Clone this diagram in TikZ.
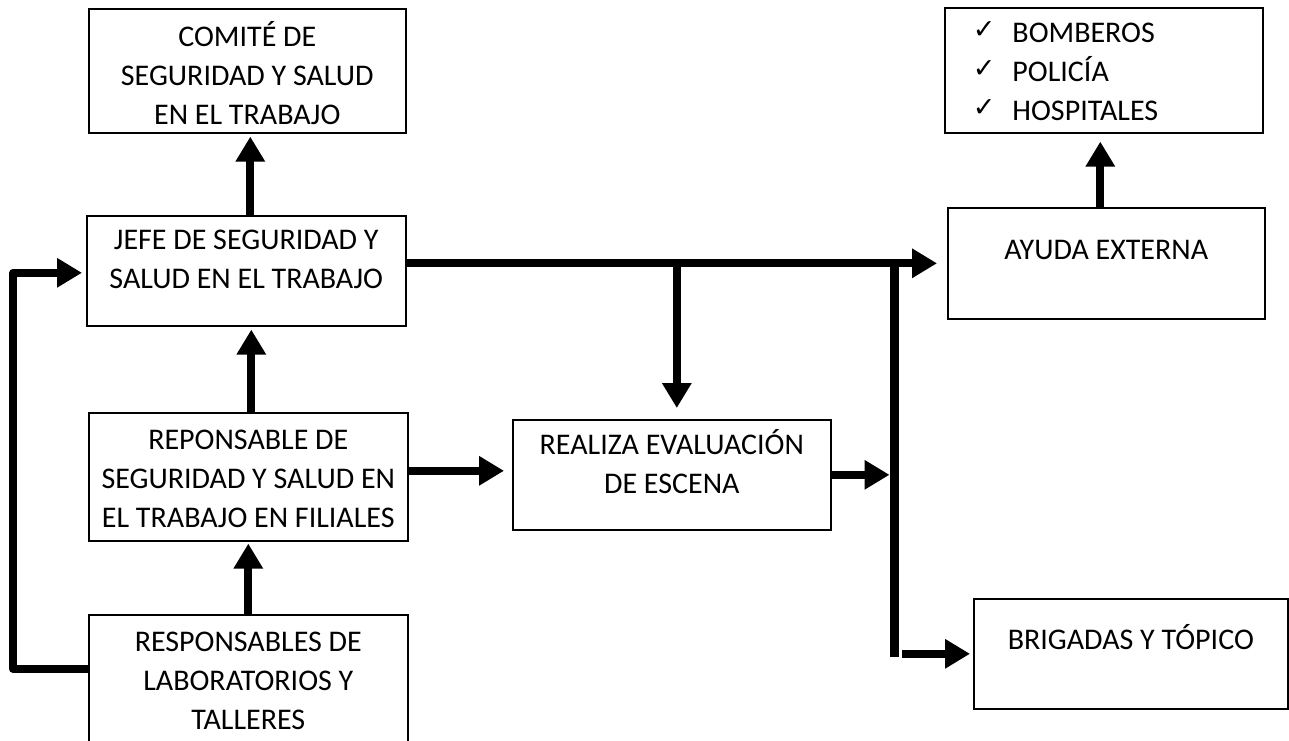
\documentclass[tikz,border=0pt]{standalone}
\usepackage{fontspec}
\setmainfont{Carlito}
\newfontfamily\tickfont{DejaVu Sans}
\usetikzlibrary{arrows.meta,calc}
\newcommand{\chk}{\raisebox{4pt}{\tickfont\fontsize{27}{27}\selectfont ✓}\hspace{17pt}}
\tikzset{%
  chartbox/.style = {shape=rectangle, draw, line width=1.6pt,%
                     align=center, inner sep=0pt, anchor=north west,%
                     font=\fontsize{30}{39}\selectfont},%
  flow/.style     = {line width=8pt, -{Triangle[length=25pt,width=28pt]}},%
  bus/.style      = {line width=9pt}%
}

\begin{document}
\begin{tikzpicture}[x=1pt,y=1pt]
	\useasboundingbox (0,0) rectangle (1289,-740);
	\clip (0,0) rectangle (1289,-740);
	% left column
	\node [chartbox, minimum width=317pt, text height=116pt, text depth=8pt]
		(comite) at (88,-8) {COMITÉ DE\\SEGURIDAD Y SALUD\\EN EL TRABAJO};
	\node [chartbox, minimum width=319pt, text height=73pt, text depth=37pt]
		(jefe) at (86,-215) {JEFE DE SEGURIDAD Y\\SALUD EN EL TRABAJO};
	\node [chartbox, minimum width=319pt, text height=115pt, text depth=13pt]
		(repon) at (88,-412) {REPONSABLE DE\\SEGURIDAD Y SALUD EN\\EL TRABAJO EN FILIALES};
	\node [chartbox, minimum width=319pt, text height=115pt, text depth=25pt]
		(resp) at (88,-614) {RESPONSABLES DE\\LABORATORIOS Y\\TALLERES};
	% middle and right
	\node [chartbox, minimum width=318pt, text height=74pt, text depth=36pt]
		(realiza) at (512,-419) {REALIZA EVALUACIÓN\\DE ESCENA};
	\node [chartbox, minimum width=317pt, text height=52pt, text depth=59pt]
		(ayuda) at (947,-207) {AYUDA EXTERNA};
	\node [chartbox, align=left, inner xsep=28pt, text width=262pt,
		text height=35pt, text depth=90pt]
		(servicios) at (944,-7) {\chk BOMBEROS\\\chk POLICÍA\\\chk HOSPITALES};
	\node [chartbox, minimum width=314pt, text height=51pt, text depth=59pt]
		(brigadas) at (973,-598) {BRIGADAS Y TÓPICO};
	\coordinate (bustop) at (894,-262);
	\coordinate (busbot) at (894,-657);
	% connectors
	\draw [flow, shorten >=3pt] ([xshift=4pt]jefe.north)
		-- ([xshift=4pt]jefe.north |- comite.south);
	\draw [flow, shorten >=3pt] ([xshift=3pt]repon.north)
		-- ([xshift=3pt]repon.north |- jefe.south);
	\draw [flow, shorten >=2pt] (resp.north) -- (repon.south);
	\draw [flow, line join=round, shorten >=4pt] ([yshift=16pt]resp.west)
		-- ++(-75,0) |- ([yshift=-2pt]jefe.west);
	\draw [bus] (bustop) -- (busbot);
	\draw [flow, shorten >=10pt] (jefe.east |- ayuda.west) -- (ayuda.west);
	\draw [flow, shorten >=11pt] ([xshift=5pt]realiza.north |- ayuda.west)
		-- ([xshift=5pt]realiza.north);
	\draw [flow, shorten >=8pt] ([yshift=6pt]repon.east)
		-- ([yshift=6pt]repon.east -| realiza.west);
	\draw [flow, shorten >=4.5pt] (realiza.east) -- (realiza.east -| bustop);
	\draw [flow, shorten >=3pt] ([xshift=8pt]busbot |- brigadas.west)
		-- (brigadas.west);
	\draw [flow, shorten >=8pt] ([xshift=-6pt]ayuda.north)
		-- ([xshift=-6pt]ayuda.north |- servicios.south);
\end{tikzpicture}
\end{document}
